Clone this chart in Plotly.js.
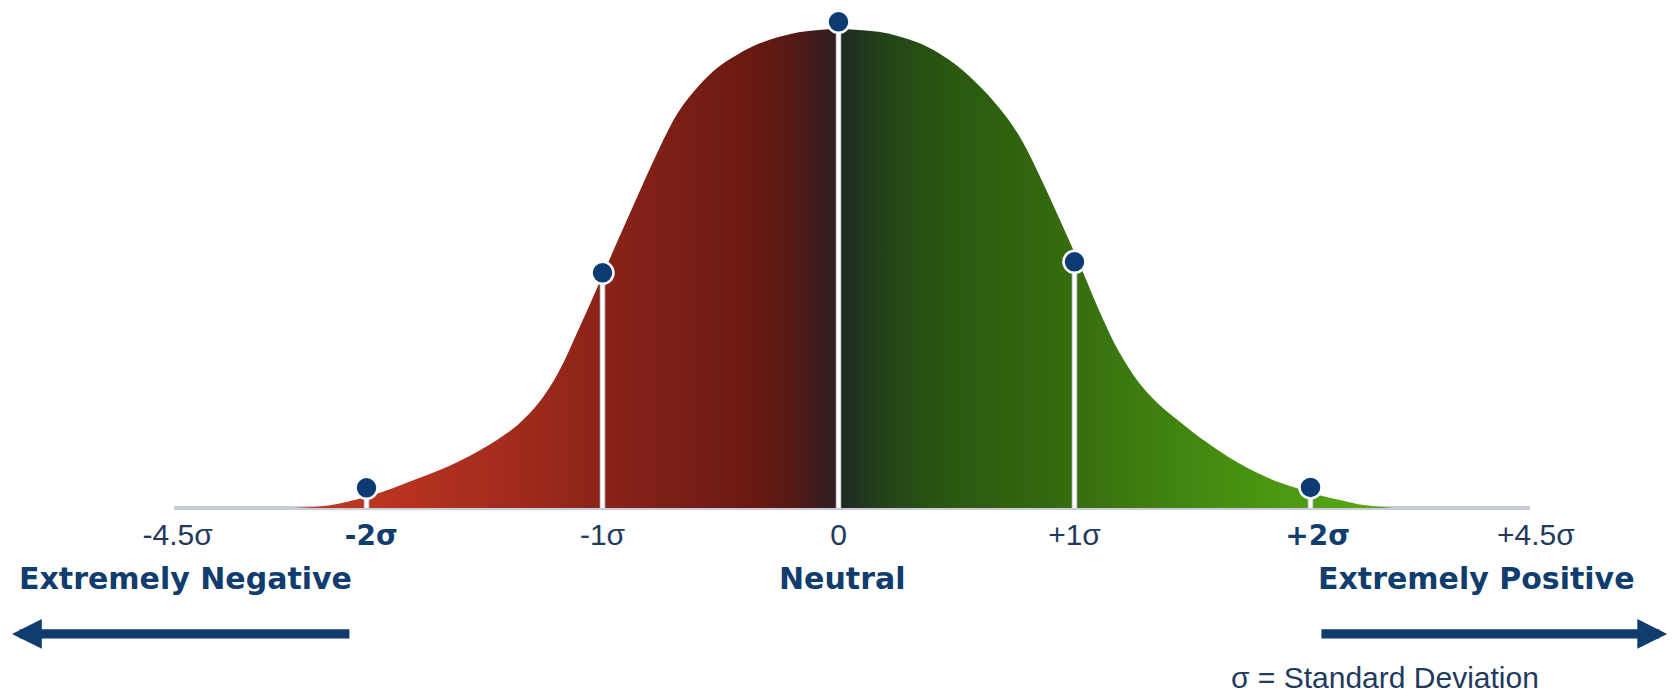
<!DOCTYPE html>
<html>
<head>
<meta charset="utf-8">
<script src="https://cdn.plot.ly/plotly-3.0.1.min.js"></script>
<style>
  html, body { margin: 0; padding: 0; background: #ffffff; }
  #chart { width: 1673px; height: 698px; }
</style>
</head>
<body>
<div id="chart"></div>
<script>
// Bell curve, x in standard deviations, y in % of peak height
const leftX = [-2.352, -2.288, -2.203, -2.119, -2.034, -1.949, -1.864, -1.780, -1.695, -1.610, -1.525, -1.441,
  -1.356, -1.271, -1.186, -1.102, -1.017, -0.932, -0.847, -0.763, -0.678, -0.593, -0.508, -0.424,
  -0.339, -0.254, -0.169, -0.085];
const leftY = [0, 0.06, 0.3, 0.9, 1.9, 3.1, 4.6, 6.2, 7.8, 9.7, 11.9, 14.4,
  17.5, 21.9, 28.4, 37.2, 46.6, 56.2, 65.6, 74.7, 82.7, 88.1, 92.1, 94.8,
  96.9, 98.3, 99.3, 99.8];
const peakX = [0];
const peakY = [100];
const rightX = [0.085, 0.169, 0.254, 0.339, 0.424, 0.508, 0.593, 0.678, 0.763, 0.847, 0.932, 1.017,
  1.102, 1.186, 1.271, 1.356, 1.441, 1.525, 1.610, 1.695, 1.780, 1.864, 1.949, 2.034, 2.119, 2.203,
  2.288, 2.352];
const rightY = [99.8, 99.4, 98.5, 97.1, 95.0, 92.1, 88.3, 83.7, 77.9, 69.9, 60.8, 51.4,
  41.5, 32.8, 26.3, 21.7, 18.2, 14.9, 12.0, 9.4, 7.2, 5.4, 4.0, 2.7, 1.7, 0.8,
  0.3, 0];

// markers on the curve (lollipop stems)
const markerX = [-2, -1, 0, 1, 2];
const markerY = [4.2, 49.1, 101.5, 51.4, 4.3];

// axis
const axisExtent = [-2.815, 2.93];
const tickPositions = [-2.80, -1.98, -1, 0, 1, 2.03, 2.955];
const tickLabels = ['-4.5σ', '-2σ', '-1σ', '0', '+1σ', '+2σ', '+4.5σ'];
const boldTicks = ['-2σ', '+2σ'];

const FONT = 'Liberation Sans, Arial, Helvetica, sans-serif';
const BOLD_FONT = 'DejaVu Sans, Arial Black, sans-serif';
const NAVY = '#103d6d';
const TEXT = '#213a5e';

// red -> dark on the left, dark -> green on the right
const gradStart = -2.4, gradStop = 2.4;
const gradStops = [
  [-2.3, '#c13b22'], [-1.8, '#b5321f'], [-1.4, '#a32c1d'], [-1.0, '#8a2319'],
  [-0.6, '#761d15'], [-0.35, '#681912'], [-0.2, '#561a16'], [-0.08, '#3c1c1c'],
  [0, '#2f1f20'], [0, '#1f2922'], [0.08, '#1f3420'], [0.2, '#234418'],
  [0.45, '#2a5710'], [0.9, '#33690e'], [1.3, '#3e7e10'], [1.8, '#4a9511'], [2.3, '#58a816']
];
const colorscale = [[0, gradStops[0][1]]]
  .concat(gradStops.map(s => [(s[0] - gradStart) / (gradStop - gradStart), s[1]]))
  .concat([[1, gradStops[gradStops.length - 1][1]]]);

const curveX = leftX.concat(peakX, rightX);
const curveY = leftY.concat(peakY, rightY);

const stemX = [], stemY = [];
markerX.forEach((x, i) => {
  stemX.push(x, x, null);
  stemY.push(0, markerY[i], null);
});

const tickText = tickLabels.map(t => boldTicks.includes(t)
  ? '<span style="font-family:DejaVu Sans;font-size:28px;font-weight:bold;fill:' + NAVY + '">' + t + '</span>'
  : t);

const traces = [
  {
    x: axisExtent, y: [0, 0], type: 'scatter', mode: 'lines',
    line: { color: '#c8ccd8', width: 4 }, hoverinfo: 'skip'
  },
  {
    // transparent outline so the spline shape is kept for the fill
    x: curveX, y: curveY, type: 'scatter', mode: 'lines',
    line: { width: 1, color: 'rgba(0,0,0,0)', shape: 'spline', smoothing: 1, simplify: false },
    fill: 'tozeroy',
    fillgradient: { type: 'horizontal', start: gradStart, stop: gradStop, colorscale: colorscale },
    hoverinfo: 'skip'
  },
  {
    x: stemX, y: stemY, type: 'scatter', mode: 'lines',
    line: { color: '#c9cdd6', width: 5.5 }, hoverinfo: 'skip'
  },
  {
    x: stemX, y: stemY, type: 'scatter', mode: 'lines',
    line: { color: '#ffffff', width: 3.5 }, hoverinfo: 'skip'
  },
  {
    x: markerX, y: markerY, type: 'scatter', mode: 'markers',
    marker: { size: 22, color: '#0c3b74', line: { color: '#ffffff', width: 2.5 } },
    hoverinfo: 'skip'
  }
];

function label(text, x, y, size, bold) {
  return {
    x: x, y: y, xref: 'x', yref: 'y', showarrow: false,
    text: bold ? '<b>' + text + '</b>' : text,
    xanchor: 'center', yanchor: 'middle',
    font: { family: bold ? BOLD_FONT : FONT, size: size, color: bold ? NAVY : TEXT }
  };
}

function arrow(tipX, tailX, y) {
  return {
    x: tipX, y: y, ax: tailX, ay: y, xref: 'x', yref: 'y', axref: 'x', ayref: 'y',
    text: '', showarrow: true, arrowhead: 2, arrowsize: 0.64, arrowwidth: 9.3,
    arrowcolor: NAVY, standoff: 0, startstandoff: 0
  };
}

const layout = {
  width: 1673,
  height: 698,
  margin: { l: 0, r: 0, t: 0, b: 0 },
  paper_bgcolor: '#ffffff',
  plot_bgcolor: '#ffffff',
  showlegend: false,
  xaxis: {
    range: [-3.553, 3.536],
    anchor: 'free',
    position: 0.2722,
    tickmode: 'array',
    tickvals: tickPositions,
    ticktext: tickText,
    ticks: '',
    showgrid: false,
    zeroline: false,
    showline: false,
    automargin: false,
    ticklabelstandoff: 6,
    tickfont: { family: FONT, size: 30, color: TEXT },
    fixedrange: true
  },
  yaxis: {
    range: [-39.67, 106.05],
    visible: false,
    fixedrange: true
  },
  annotations: [
    label('Extremely Negative', -2.769, -14.8, 30, true),
    label('Neutral', 0.015, -14.8, 30, true),
    label('Extremely Positive', 2.703, -14.8, 30, true),
    label('σ = Standard Deviation', 2.316, -35.3, 30, false),
    arrow(-3.502, -2.066, -26.3),
    arrow(3.511, 2.040, -26.3)
  ]
};

Plotly.newPlot('chart', traces, layout, { displayModeBar: false, staticPlot: true });
</script>
</body>
</html>
